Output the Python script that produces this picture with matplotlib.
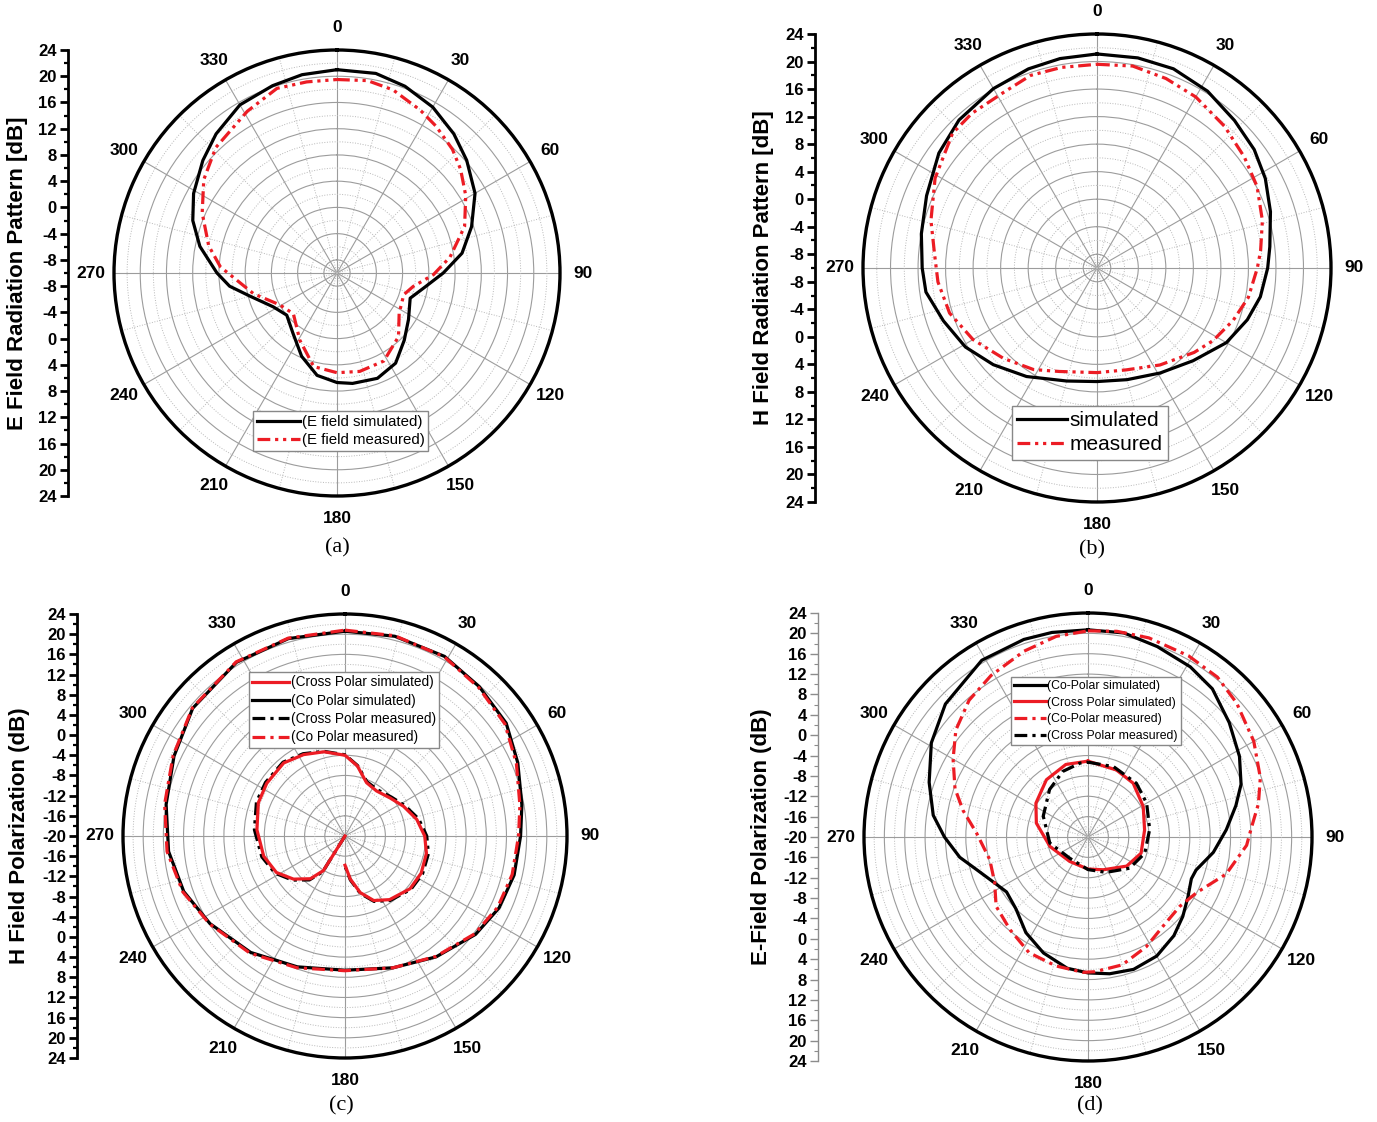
import numpy as np
import matplotlib
matplotlib.use("Agg")
import matplotlib.pyplot as plt
from matplotlib.lines import Line2D
from matplotlib.ticker import MultipleLocator

plt.rcParams['font.family'] = ['Liberation Sans', 'DejaVu Sans']

RED = '#ec1c24'

# (a) E field radiation pattern
a_sim_ang = [0, 11, 20, 30, 40, 49, 60, 71, 81, 90, 99, 109, 123, 135, 147, 159, 172,
             180, 191, 203, 216, 230, 242, 255, 263, 270, 281, 290, 299, 310, 319, 330, 341, 350]
a_sim_db = [21.0, 21.0, 20.3, 19.2, 17.7, 16.2, 14.3, 11.7, 9.3, 6.2, 3.6, 1.8, 3.0, 4.5, 6.4, 7.2, 7.0,
            6.7, 5.9, 3.8, 1.4, 0.0, 1.0, 3.7, 6.5, 8.3, 11.3, 13.4, 15.0, 16.7, 18.1, 19.6, 20.2, 20.7]
a_mea_ang = [0, 9, 17, 27, 34, 43, 50, 59, 70, 82, 91, 100, 108, 123, 136, 152, 167,
             180, 194, 209, 227, 241, 256, 273, 282, 294, 305, 316, 331, 342, 351]
a_mea_db = [19.5, 19.7, 19.2, 17.9, 17.0, 15.8, 14.6, 12.9, 10.7, 7.4, 4.7, 1.8, 0.7, 1.3, 3.5, 5.2, 5.4,
            5.2, 4.7, 1.7, -0.9, 0.0, 3.1, 7.8, 10.0, 12.5, 14.8, 16.6, 18.2, 19.6, 19.5]

# (b) H field radiation pattern
b_sim_ang = [0, 11, 21, 32, 43, 53, 62, 72, 83, 90, 100, 109, 120, 134, 149, 165,
             180, 195, 213, 227, 239, 251, 262, 270, 281, 293, 306, 317, 330, 341, 350]
b_sim_db = [21.1, 21.1, 21.0, 20.3, 19.3, 18.6, 17.7, 16.5, 15.3, 14.8, 14.1, 13.1, 11.7, 9.4, 7.8, 6.8,
            6.5, 7.0, 8.8, 10.6, 12.3, 13.6, 15.1, 15.4, 16.0, 16.9, 18.4, 19.4, 20.1, 20.6, 20.9]
b_mea_ang = [0, 10, 20, 30, 42, 53, 63, 74, 84, 90, 101, 111, 122, 131, 147, 164,
             180, 200, 212, 226, 240, 253, 265, 275, 286, 299, 313, 321, 332, 341, 350]
b_mea_db = [19.6, 19.8, 19.3, 18.7, 17.7, 16.8, 16.1, 15.0, 13.9, 13.3, 12.4, 11.2, 9.9, 8.7, 6.8, 5.4,
            5.2, 6.0, 7.4, 8.9, 10.8, 12.4, 13.2, 13.7, 15.1, 16.9, 18.7, 18.9, 18.9, 19.6, 19.6]

# (c) H field polarization
c_co_ang = [0, 14, 29, 42, 55, 67, 80, 90, 103, 115, 127, 143, 160,
            180, 200, 219, 237, 251, 265, 280, 295, 310, 328, 344]
c_co_sim_db = [20.6, 20.8, 20.7, 19.8, 19.0, 17.2, 15.6, 14.8, 14.4, 13.7, 12.4, 10.0, 7.8,
               6.6, 7.6, 9.7, 11.9, 13.8, 15.1, 16.0, 17.4, 19.4, 20.6, 20.7]
c_co_mea_db = [20.8, 20.9, 20.6, 19.6, 18.7, 16.9, 15.2, 14.4, 14.0, 13.4, 12.2, 9.9, 7.8,
               6.7, 7.8, 9.9, 12.0, 14.0, 15.4, 16.3, 17.6, 19.5, 20.7, 20.8]
c_x_ang = [200, 212, 219, 230, 242, 256, 274, 291, 304, 320, 333, 346, 0, 10,
           22, 35, 50, 63, 77, 90, 102, 116, 129, 145, 156, 165, 173, 180]
c_x_sim_db = [-20.0, -11.9, -9.1, -6.7, -4.6, -3.4, -2.5, -1.6, -1.3, -1.1, -1.9, -2.8, -4.0, -5.9,
              -8.6, -9.1, -8.3, -7.0, -5.4, -4.2, -3.5, -3.2, -3.4, -4.6, -6.0, -8.4, -11.4, -14.2]
c_x_mea_db = [-20.0, -11.6, -8.8, -6.4, -4.3, -3.0, -2.0, -1.2, -1.0, -0.9, -1.7, -2.7, -3.9, -5.8,
              -8.4, -8.8, -8.0, -6.7, -5.0, -3.8, -3.1, -2.9, -3.2, -4.4, -5.8, -8.2, -11.2, -14.0]

# (d) E field polarization
d_co_sim_ang = [0, 10, 20, 31, 40, 51, 62, 71, 78, 87, 97, 107, 112, 121, 130, 139, 150, 161, 171,
                180, 189, 201, 213, 225, 236, 243, 254, 261, 270, 278, 289, 301, 313, 329, 342, 350]
d_co_sim_db = [20.7, 20.7, 19.8, 19.0, 18.0, 15.7, 13.7, 11.8, 9.7, 7.2, 4.8, 2.2, 1.9, 2.9, 4.3, 5.7, 7.0, 7.5, 7.2,
               6.7, 6.1, 4.4, 2.4, 0.0, -0.7, 0.3, 2.9, 5.5, 8.2, 10.7, 13.0, 15.9, 18.3, 20.5, 20.8, 20.8]
d_co_mea_ang = [0, 8, 17, 29, 39, 48, 60, 71, 79, 87, 93, 105, 117, 127, 140, 152, 165,
                177, 182, 194, 207, 220, 233, 244, 257, 272, 282, 290, 300, 309, 319, 329, 341, 351]
d_co_mea_db = [20.5, 20.8, 20.9, 20.7, 20.4, 19.3, 17.6, 15.8, 14.1, 12.1, 11.2, 8.1, 4.0, 2.6, 2.9, 4.4, 6.0,
               6.5, 6.6, 6.1, 5.5, 3.8, 2.6, 0.4, -0.2, 1.9, 5.1, 7.8, 10.6, 13.4, 15.6, 17.0, 18.6, 19.9]
d_x_sim_ang = [0, 23, 40, 61, 83, 107, 127, 155, 180, 217, 256, 285, 303, 324, 343]
d_x_sim_db = [-5.1, -5.7, -6.2, -7.6, -8.8, -9.1, -10.5, -12.9, -13.7, -14.0, -12.3, -9.5, -7.8, -6.1, -5.1]
d_x_mea_ang = [0, 20, 42, 60, 83, 106, 127, 153, 180, 221, 261, 295, 321, 339, 354]
d_x_mea_db = [-5.3, -5.3, -5.8, -6.7, -7.8, -8.4, -9.8, -12.2, -13.6, -14.5, -12.4, -10.3, -8.0, -6.2, -5.4]

W, H = 1377, 1122
fig = plt.figure(figsize=(W / 100, H / 100), dpi=100)


def fx(px):
    return px / W


def fy(py):
    return 1 - py / H


def closed(ang, db):
    t = np.deg2rad(np.append(ang, ang[0]))
    r = np.append(db, db[0])
    return t, r


def polar_panel(cx, cy, R, rmin, rmax):
    ax = fig.add_axes([fx(cx - R), fy(cy + R), R * 2 / W, R * 2 / H], projection='polar')
    ax.set_theta_zero_location('N')
    ax.set_theta_direction(-1)
    ax.set_ylim(rmin, rmax)
    first = rmin + 2 if rmin % 4 else rmin + 4
    ax.set_yticks(np.arange(first, rmax, 4))
    ax.set_yticks(np.arange(rmin + 2 if rmin % 4 == 0 else rmin + 4, rmax, 4), minor=True)
    ax.set_yticklabels([])
    ax.set_xticks(np.deg2rad(np.arange(0, 360, 30)))
    ax.set_xticklabels([str(d) for d in range(0, 360, 30)], fontsize=12.5, fontweight='bold')
    ax.set_xticks(np.deg2rad(np.arange(15, 360, 30)), minor=True)
    ax.tick_params(axis='x', which='major', direction='inout', length=11, width=2.5, pad=4)
    ax.tick_params(axis='x', which='minor', direction='in', length=5, width=1.5)
    ax.tick_params(axis='y', which='both', length=0)
    ax.grid(which='major', color='#9c9c9c', lw=0.8, ls='-')
    ax.grid(which='minor', color='#b8b8b8', lw=0.7, ls=':')
    ax.spines['polar'].set_linewidth(2.4)
    return ax


def radial_scale(spine_x, cy, R, rmin, rmax, color='black', lw=2):
    ax = fig.add_axes([fx(spine_x), fy(cy + R), 0.001, R * 2 / H])
    span = rmax - rmin
    ax.set_ylim(-span, span)
    vals = np.arange(rmax, rmin - 0.1, -4)
    pos = vals - rmin
    ticks = list(pos) + list(-pos[pos > 0])
    labels = [f'{v:g}' for v in vals] + [f'{v:g}' for v in vals[pos > 0]]
    ax.set_yticks(ticks, labels)
    ax.yaxis.set_minor_locator(MultipleLocator(2))
    for s in ('top', 'right', 'bottom'):
        ax.spines[s].set_visible(False)
    ax.spines['left'].set_color(color)
    ax.spines['left'].set_linewidth(lw)
    ax.set_xticks([])
    ax.tick_params(axis='y', which='major', length=6, width=lw, color=color, pad=2)
    ax.tick_params(axis='y', which='minor', length=3, width=lw * 0.8, color=color)
    for t in ax.get_yticklabels():
        t.set_fontweight('bold')
        t.set_fontsize(12)
    return ax


def axis_title(x, y, text):
    fig.text(fx(x), fy(y), text, rotation=90, ha='center', va='center',
             fontsize=16, fontweight='bold')


def legend(ax, handles, labels, x, y, size, hl, spacing):
    ax.legend(handles, labels, loc='upper left', bbox_to_anchor=(fx(x), fy(y)),
              bbox_transform=fig.transFigure, fontsize=size, handlelength=hl,
              handletextpad=0.1, borderpad=0.25, labelspacing=spacing, borderaxespad=0,
              fancybox=False, edgecolor='#888888', framealpha=1)


dash_dd = (4, 1.5, 1, 1.5, 1, 1.5)
dash_d = (4, 1.6, 1, 1.6)
LW = 2.3

# (a)
ax = polar_panel(337, 273, 223, -10, 24)
ax.plot(*closed(a_sim_ang, a_sim_db), color='black', lw=LW)
ax.plot(*closed(a_mea_ang, a_mea_db), color=RED, lw=LW, dashes=dash_dd)
h = [Line2D([], [], color='black', lw=LW), Line2D([], [], color=RED, lw=LW, dashes=dash_dd)]
legend(ax, h, ['(E field simulated)', '(E field measured)'], 253, 411, 10.8, 2.9, 0.3)
radial_scale(68, 273, 223, -10, 24)
axis_title(18, 273, 'E Field Radiation Pattern [dB]')

# (b)
ax = polar_panel(1097, 268, 234, -10, 24)
ax.plot(*closed(b_sim_ang, b_sim_db), color='black', lw=LW)
ax.plot(*closed(b_mea_ang, b_mea_db), color=RED, lw=LW, dashes=dash_dd)
h = [Line2D([], [], color='black', lw=LW), Line2D([], [], color=RED, lw=LW, dashes=dash_dd)]
legend(ax, h, ['simulated', 'measured'], 1012, 406, 15, 2.4, 0.25)
radial_scale(815, 268, 234, -10, 24)
axis_title(763, 268, 'H Field Radiation Pattern [dB]')

# (c)
ax = polar_panel(345, 836, 222, -20, 24)
ax.plot(*closed(c_co_ang, c_co_sim_db), color='black', lw=LW)
ax.plot(np.deg2rad(c_x_ang), c_x_mea_db, color='black', lw=LW, dashes=dash_d)
ax.plot(np.deg2rad(c_x_ang), c_x_sim_db, color=RED, lw=LW)
ax.plot(*closed(c_co_ang, c_co_mea_db), color=RED, lw=LW, dashes=dash_d)
h = [Line2D([], [], color=RED, lw=LW), Line2D([], [], color='black', lw=LW),
     Line2D([], [], color='black', lw=LW, dashes=dash_d), Line2D([], [], color=RED, lw=LW, dashes=dash_d)]
legend(ax, h, ['(Cross Polar simulated)', '(Co Polar simulated)', '(Cross Polar measured)',
               '(Co Polar measured)'], 249, 672, 9.8, 2.7, 0.32)
radial_scale(77, 836, 222, -20, 24)
axis_title(20, 836, 'H Field Polarization (dB)')

# (d)
ax = polar_panel(1088, 837, 224, -20, 24)
ax.plot(*closed(d_co_sim_ang, d_co_sim_db), color='black', lw=LW)
ax.plot(*closed(d_co_mea_ang, d_co_mea_db), color=RED, lw=LW, dashes=dash_d)
ax.plot(*closed(d_x_sim_ang, d_x_sim_db), color=RED, lw=LW)
ax.plot(*closed(d_x_mea_ang, d_x_mea_db), color='black', lw=LW, dashes=dash_d)
h = [Line2D([], [], color='black', lw=LW), Line2D([], [], color=RED, lw=LW),
     Line2D([], [], color=RED, lw=LW, dashes=dash_d), Line2D([], [], color='black', lw=LW, dashes=dash_d)]
legend(ax, h, ['(Co-Polar simulated)', '(Cross Polar simulated)', '(Co-Polar measured)',
               '(Cross Polar measured)'], 1011, 677, 8.8, 2.6, 0.38)
radial_scale(818, 837, 224, -20, 24, color='#8c8c8c', lw=1)
axis_title(762, 837, 'E-Field Polarization (dB)')

for label, x, y in [('(a)', 337, 548), ('(b)', 1092, 550), ('(c)', 341, 1106), ('(d)', 1090, 1106)]:
    fig.text(fx(x), fy(y), label, ha='center', va='center', fontsize=16, family='Liberation Serif')

fig.savefig('out.png', dpi=100)
